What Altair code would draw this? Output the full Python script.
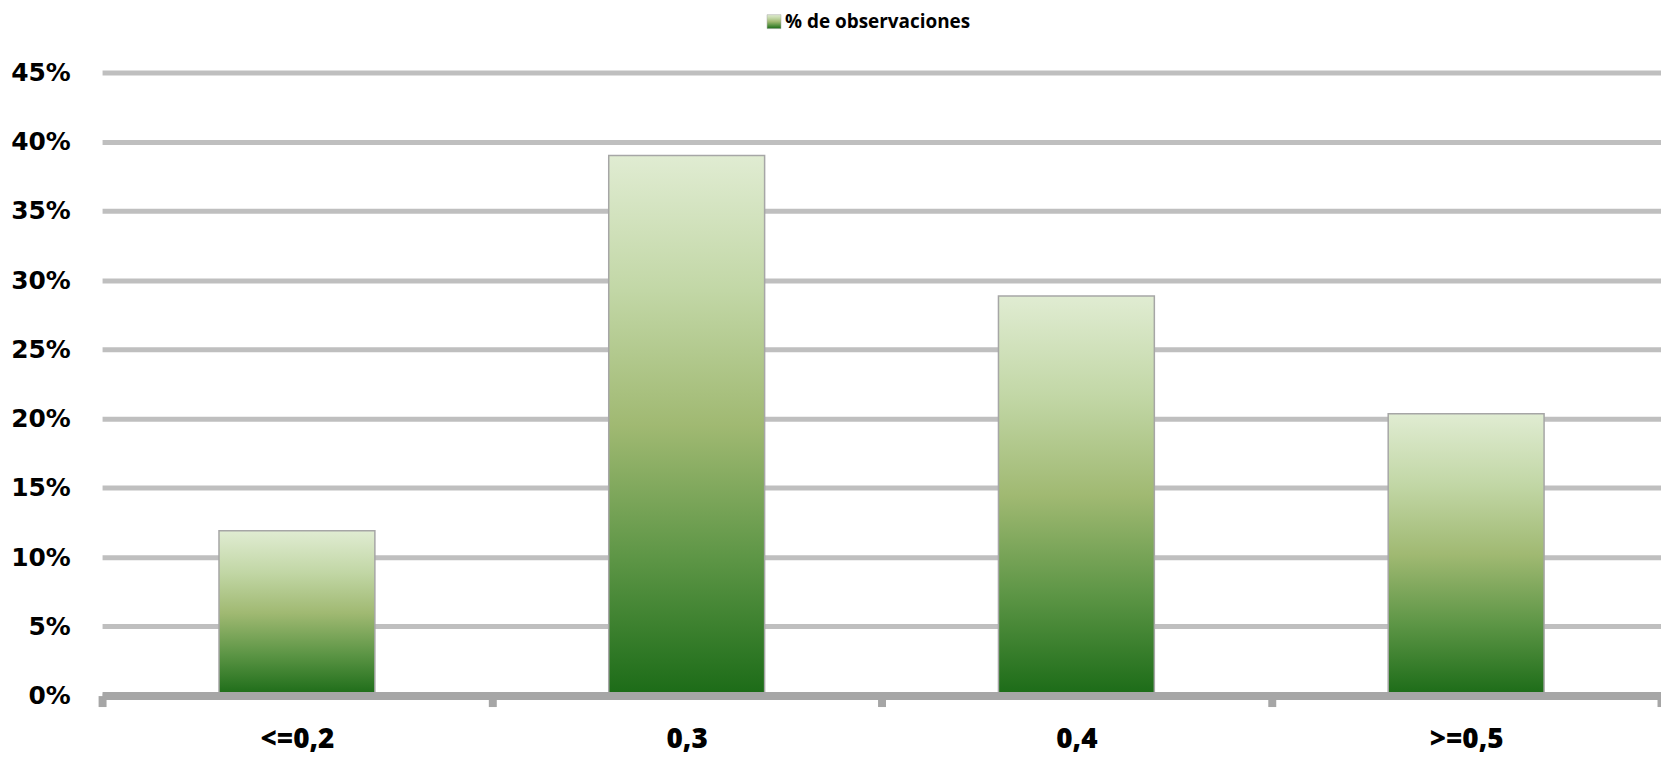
import altair as alt
import pandas as pd

categories = ["<=0,2", "0,3", "0,4", ">=0,5"]
values = [0.119, 0.390, 0.2885, 0.2035]
series_name = "% de observaciones"
y_ticks = [0, 0.05, 0.10, 0.15, 0.20, 0.25, 0.30, 0.35, 0.40, 0.45]

df = pd.DataFrame({"cat": categories, "val": values})
leg = pd.DataFrame({"t": [series_name]})

grad = {
    "gradient": "linear", "x1": 0, "y1": 0, "x2": 0, "y2": 1,
    "stops": [
        {"offset": 0, "color": "#e0ecd2"},
        {"offset": 0.25, "color": "#c2d7a6"},
        {"offset": 0.5, "color": "#a0b972"},
        {"offset": 0.75, "color": "#5c9545"},
        {"offset": 1, "color": "#1b6b17"},
    ],
}

bars = alt.Chart(df).mark_bar(fill=grad, stroke="#a6a6a6", strokeWidth=1.5,
                              width=alt.RelativeBandSize(0.4)).encode(
    x=alt.X("cat:N", sort=categories,
            scale=alt.Scale(paddingInner=0, paddingOuter=0),
            axis=alt.Axis(title=None, labelAngle=0, labelFont="Open Sans", labelFontWeight=800,
                          labelFontSize=28, labelColor="#000000", labelPadding=19,
                          tickBand="extent", tickSize=11, tickWidth=8, tickColor="#a6a6a6",
                          domainColor="#a6a6a6", domainWidth=8, grid=False, zindex=1)),
    y=alt.Y("val:Q", scale=alt.Scale(domain=[0, 0.45], nice=False, zero=True),
            axis=alt.Axis(title=None, values=y_ticks, format=".0%", labelFont="DejaVu Sans",
                          labelFontWeight="bold", labelFontSize=25, labelColor="#000000",
                          labelPadding=32, ticks=False, domain=False, grid=True,
                          gridColor="#bfbfbf", gridWidth=5)),
)

leg_sq = alt.Chart(leg).mark_square(size=196, fill=grad, stroke="#a6a6a6", strokeWidth=0.5, opacity=1).encode(
    x=alt.value(675), y=alt.value(-51)
)
leg_tx = alt.Chart(leg).mark_text(align="left", baseline="middle", font="Open Sans", fontWeight="bold",
                                  fontSize=19, color="#000000").encode(
    x=alt.value(686), y=alt.value(-51), text="t:N"
)

chart = alt.layer(bars, leg_sq, leg_tx).properties(
    width=1566, height=626,
    autosize=alt.AutoSizeParams(type="none"),
    padding={"left": 94.5, "top": 63, "right": 0, "bottom": 62},
).configure_view(stroke=None)

chart.save("out.html", embed_options={"renderer": "svg", "actions": False})
